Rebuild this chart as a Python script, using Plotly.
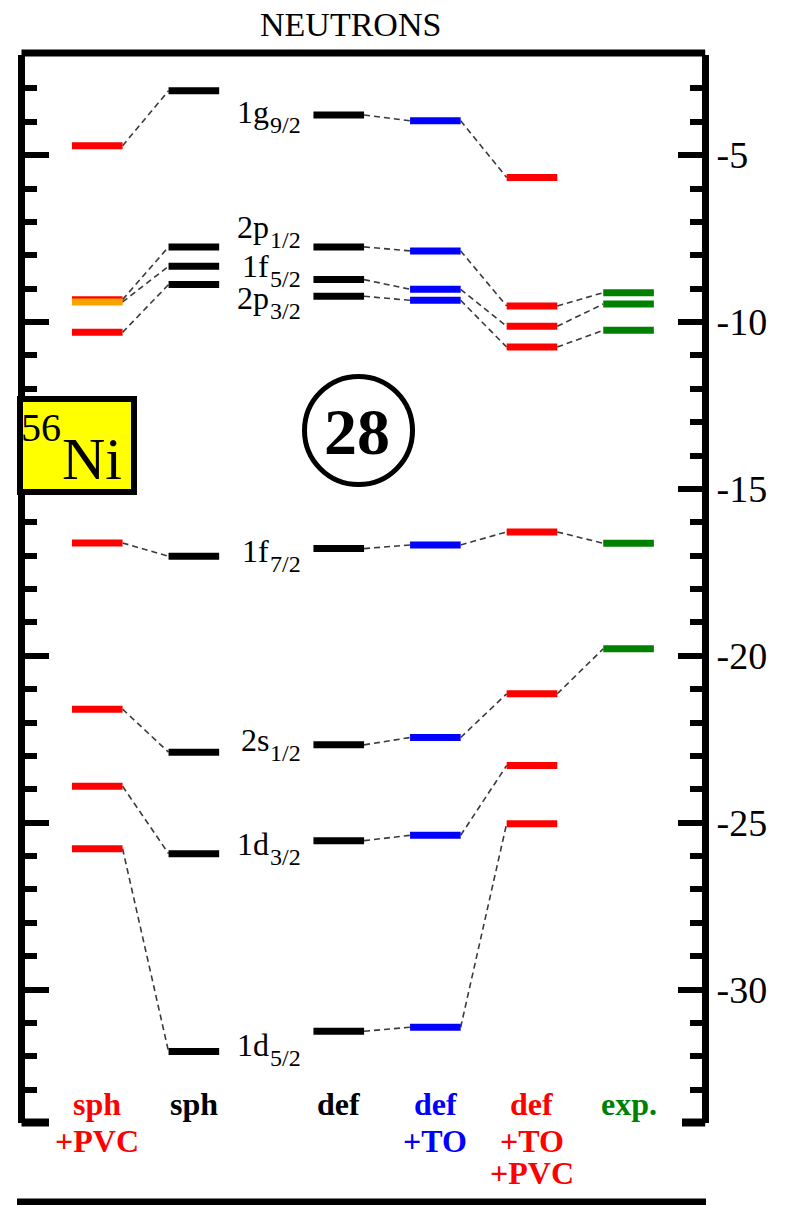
import plotly.graph_objects as go

# ---- single-particle neutron levels of 56Ni (MeV) ----
ORBITALS = ["1g", "2p", "1f", "2p", "1f", "2s", "1d", "1d"]
ORBITAL_J = ["9/2", "1/2", "5/2", "3/2", "7/2", "1/2", "3/2", "5/2"]

SPH_PVC = [-4.72, -9.33, -9.40, -10.31, -16.62, -21.60, -23.91, -25.78]
SPH = [-3.07, -7.75, -8.33, -8.88, -17.02, -22.89, -25.93, -31.86]
DEF = [-3.80, -7.75, -8.73, -9.23, -16.79, -22.67, -25.54, -31.25]
DEF_TO = [-3.97, -7.87, -9.02, -9.35, -16.68, -22.45, -25.38, -31.13]
DEF_TO_PVC = [-5.67, -9.52, -10.13, -10.75, -16.29, -21.14, -23.29, -25.03]
EXP = [None, -9.12, -9.46, -10.25, -16.63, -19.79, None, None]

COLUMNS = [SPH_PVC, SPH, DEF, DEF_TO, DEF_TO_PVC, EXP]
COLUMN_LABELS = [["sph", "+PVC"], ["sph"], ["def"], ["def", "+TO"],
                 ["def", "+TO", "+PVC"], ["exp."]]
COLUMN_COLORS = ["#ff0000", "#000000", "#000000", "#0000ff", "#ff0000", "#008000"]
HIGHLIGHT = {(0, 2): "#f7a400"}          # (column, level) drawn in another colour
LINKED = [True, False, True, True, True]  # dashed links to the next column

TICK_VALS = [-5, -10, -15, -20, -25, -30]
TICK_TEXT = ["-5", "-10", "-15", "-20", "-25", "-30"]
MINOR_VALS = [v for v in range(-34, -1) if v % 5]

# ---- layout geometry ----
W, H = 785, 1205
ML, MR, MT, MB = 25, 83, 55, 82
PW, PH = W - ML - MR, H - MT - MB
COL_X = [0, 1, 2.5, 3.5, 4.5, 5.5]
HALF = 0.262
X_RANGE = [-0.748, -0.748 + PW / 96.6]
Y_RANGE = [-34, -2]
LABEL_X = 1.76
LABEL_Y = [-3.72, -7.14, -8.31, -9.27, -16.85, -22.52, -25.63, -31.65]
SERIF = "Liberation Serif, Times New Roman, serif"


def px(x):
    return (x - ML) / PW


def py(y):
    return 1 - (y - MT) / PH


fig = go.Figure()

# dashed correlation lines between neighbouring columns
lx, ly = [], []
for c, link in enumerate(LINKED):
    if not link:
        continue
    a, b = COLUMNS[c], COLUMNS[c + 1]
    for va, vb in zip(a, b):
        if va is None or vb is None:
            continue
        lx += [COL_X[c] + HALF, COL_X[c + 1] - HALF, None]
        ly += [va, vb, None]
fig.add_trace(go.Scatter(x=lx, y=ly, mode="lines", hoverinfo="skip",
                         line=dict(color="#3a3a3a", width=1.6, dash="6px,4px")))

# level bars
extra = []
for c, levels in enumerate(COLUMNS):
    bx, by = [], []
    for i, v in enumerate(levels):
        if v is None:
            continue
        if (c, i) in HIGHLIGHT:
            extra.append((c, v, HIGHLIGHT[(c, i)]))
            continue
        bx += [COL_X[c] - HALF, COL_X[c] + HALF, None]
        by += [v, v, None]
    fig.add_trace(go.Scatter(x=bx, y=by, mode="lines", hoverinfo="skip",
                             line=dict(color=COLUMN_COLORS[c], width=7)))
for c, v, col in extra:
    fig.add_trace(go.Scatter(x=[COL_X[c] - HALF, COL_X[c] + HALF], y=[v, v],
                             mode="lines", hoverinfo="skip",
                             line=dict(color=col, width=7)))

ann = []
# orbital names with j subscripts
for name, j, y in zip(ORBITALS, ORBITAL_J, LABEL_Y):
    ann.append(dict(x=LABEL_X, y=y, xref="x", yref="y", text=name, xshift=3,
                    xanchor="right", yanchor="middle", showarrow=False,
                    borderpad=0,
                    font=dict(family=SERIF, size=32, color="black")))
    ann.append(dict(x=LABEL_X, y=y, xref="x", yref="y", text=j, yshift=-13,
                    xshift=2, xanchor="left", yanchor="middle",
                    showarrow=False, borderpad=0,
                    font=dict(family=SERIF, size=24, color="black")))

# column captions below the frame
CAPTION_Y = [1104, 1141, 1173]
for c, lines in enumerate(COLUMN_LABELS):
    for k, t in enumerate(lines):
        ann.append(dict(x=COL_X[c], y=py(CAPTION_Y[k]), xref="x", yref="paper",
                        text=t, xanchor="center", yanchor="middle",
                        showarrow=False, borderpad=0,
                        font=dict(family=SERIF, size=32, color=COLUMN_COLORS[c],
                                  weight="bold")))

ann += [
    dict(x=px(350), y=py(24), xref="paper", yref="paper", text="NEUTRONS",
         showarrow=False, xanchor="center", yanchor="middle",
         font=dict(family=SERIF, size=34, color="black")),
    dict(x=px(356.5), y=py(431.5), xref="paper", yref="paper", text="28",
         showarrow=False, xanchor="center", yanchor="middle",
         font=dict(family=SERIF, size=66, color="black", weight="bold")),
    dict(x=px(41), y=py(427.5), xref="paper", yref="paper", text="56",
         showarrow=False, xanchor="center", yanchor="middle",
         font=dict(family=SERIF, size=40, color="black")),
    dict(x=px(91.5), y=py(458.5), xref="paper", yref="paper", text="Ni",
         showarrow=False, xanchor="center", yanchor="middle",
         font=dict(family=SERIF, size=60, color="black")),
]

shapes = [
    # top edge of the frame
    dict(type="line", xref="paper", yref="paper", x0=px(21.5), x1=px(705.2),
         y0=py(53), y1=py(53), line=dict(color="black", width=7)),
    # short corner pieces at the bottom of the frame
    dict(type="line", xref="paper", yref="paper", x0=px(21.5), x1=px(49),
         y0=py(1122.5), y1=py(1122.5), line=dict(color="black", width=8)),
    dict(type="line", xref="paper", yref="paper", x0=px(682), x1=px(705.2),
         y0=py(1122.5), y1=py(1122.5), line=dict(color="black", width=8)),
    # rule along the bottom
    dict(type="line", xref="paper", yref="paper", x0=px(17), x1=px(706),
         y0=py(1202), y1=py(1202), line=dict(color="black", width=7)),
    # magic number circle
    dict(type="circle", xref="paper", yref="paper", x0=px(358.5 - 54),
         x1=px(358.5 + 54), y0=py(430.5 + 54), y1=py(430.5 - 54),
         line=dict(color="black", width=5)),
    # nucleus tag
    dict(type="rect", xref="paper", yref="paper", x0=px(20), x1=px(134),
         y0=py(492), y1=py(399), fillcolor="#ffff00",
         line=dict(color="black", width=6)),
]

fig.update_layout(
    width=W, height=H,
    margin=dict(l=ML, r=MR, t=MT, b=MB, pad=0),
    paper_bgcolor="white", plot_bgcolor="white",
    showlegend=False,
    annotations=ann,
    shapes=shapes,
    xaxis=dict(range=X_RANGE, showgrid=False, zeroline=False, showline=False,
               showticklabels=False, ticks="", fixedrange=True),
    yaxis=dict(range=Y_RANGE, side="right", showgrid=False, zeroline=False,
               showline=True, linewidth=7, linecolor="black", mirror="ticks",
               tickmode="array", tickvals=TICK_VALS, ticktext=TICK_TEXT,
               ticks="inside", ticklen=24, tickwidth=6, tickcolor="black",
               tickfont=dict(family=SERIF, size=38, color="black"),
               minor=dict(tickmode="array", tickvals=MINOR_VALS, ticks="inside",
                          ticklen=12, tickwidth=6, tickcolor="black",
                          showgrid=False),
               fixedrange=True),
)

fig.write_html("out.html")
